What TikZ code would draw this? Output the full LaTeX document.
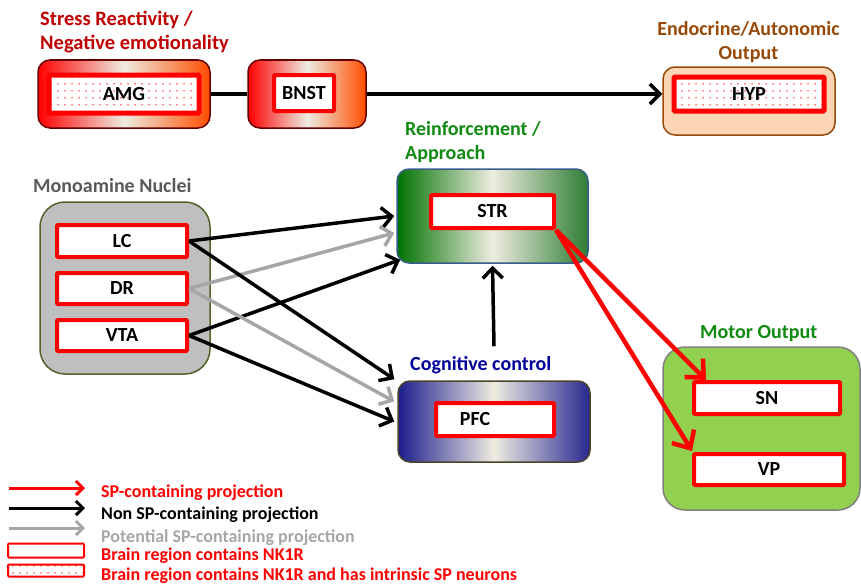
\documentclass[tikz,border=0pt]{standalone}
\usepackage{fontspec}
\setmainfont{Carlito}
\usetikzlibrary{arrows.meta,patterns.meta}
\definecolor{nkred}{HTML}{FF0000}
\definecolor{cream}{HTML}{EEECE1}
\definecolor{stressred}{HTML}{C00000}
\definecolor{endobrown}{HTML}{984807}
\definecolor{reingreen}{HTML}{108A10}
\definecolor{cogblue}{HTML}{00009A}
\definecolor{monogray}{HTML}{595959}
\definecolor{arrgray}{HTML}{A6A6A6}
\begin{document}
\begin{tikzpicture}[x=1pt, y=-1pt, font=\bfseries\fontsize{20}{24}\selectfont,
    region/.style={draw=nkred, line width=4pt, fill=white, inner sep=0pt, rounded corners=1pt},
    spregion/.style={region, preaction={fill=white}, pattern={Dots[distance=6.5pt,radius=.8pt]}, pattern color=nkred},
    group/.style={line width=1.5pt, rounded corners=12pt, inner sep=0pt},
    title/.style={inner sep=0pt, align=left, anchor=north west},
    proj/.style={line width=3.5pt, -{Straight Barb[length=10pt,width=20pt]}},
    spproj/.style={line width=4.5pt, nkred, -{Straight Barb[length=14pt,width=26pt]}},
    legarr/.style={line width=3pt, -{Straight Barb[length=7pt,width=14pt]}}]
    \useasboundingbox (0,0) rectangle (861,586);
    % group boxes
    \node[group, draw=red!40!black, left color=nkred, right color=orange!60!red, middle color=cream, minimum width=172pt, minimum height=68pt] (amgbox) at (124,94) {};
    \node[group, draw=red!40!black, left color=nkred, right color=orange!60!red, middle color=cream, minimum width=118pt, minimum height=68pt] (bnstbox) at (307,94) {};
    \node[group, draw=endobrown, fill={rgb,255:red,252;green,213;blue,181}, minimum width=172pt, minimum height=68pt] (hypbox) at (749,101) {};
    \node[group, draw={rgb,255:red,56;green,93;blue,138}, left color=green!45!black, right color={rgb,255:red,46;green,125;blue,50}, middle color=cream, minimum width=191pt, minimum height=94pt] (strbox) at (492.5,216) {};
    \node[group, draw={rgb,255:red,79;green,98;blue,40}, fill={rgb,255:red,191;green,191;blue,191}, rounded corners=25pt, minimum width=170pt, minimum height=172pt] (monobox) at (125,288) {};
    \node[group, draw={rgb,255:red,74;green,69;blue,42}, left color={rgb,255:red,28;green,28;blue,140}, right color={rgb,255:red,40;green,40;blue,145}, middle color=cream, minimum width=192pt, minimum height=81pt] (pfcbox) at (494,421.5) {};
    \node[group, draw=gray, fill={rgb,255:red,146;green,208;blue,80}, rounded corners=22pt, minimum width=197pt, minimum height=163pt] (motorbox) at (761.5,428.5) {};
    % titles
    \node[title, text=stressred, font=\bfseries\fontsize{20.5}{24}\selectfont] (stresstitle) at (40,11) {Stress Reactivity /\\Negative emotionality};
    \node[title, text=endobrown, align=center, anchor=north] (endotitle) at (748.5,21) {Endocrine/Autonomic\\Output};
    \node[title, text=reingreen] (reintitle) at (405,121) {Reinforcement /\\Approach};
    \node[title, text=monogray, anchor=base west] (monotitle) at (33,192) {Monoamine Nuclei};
    \node[title, text=cogblue, anchor=base west] (cogtitle) at (410,370) {Cognitive control};
    \node[title, text=reingreen, anchor=base west] (motortitle) at (700,338) {Motor Output};
    % brain regions
    \node[spregion, line width=5pt, minimum width=150pt, minimum height=38pt] (amg) at (124,94) {AMG};
    \node[region, minimum width=60pt, minimum height=36pt] (bnst) at (304,93) {BNST};
    \node[spregion, line width=5pt, minimum width=150pt, minimum height=34pt] (hyp) at (749,94) {HYP};
    \node[region, minimum width=123pt, minimum height=33pt] (str) at (492.5,211.5) {STR};
    \node[region, minimum width=130pt, minimum height=32pt] (lc) at (122,241) {LC};
    \node[region, minimum width=130pt, minimum height=31pt] (dr) at (122,288.5) {DR};
    \node[region, minimum width=130pt, minimum height=31pt] (vta) at (122,335.5) {VTA};
    \node[region, minimum width=118pt, minimum height=33pt] (pfc) at (495,419.5) {PFC\hspace*{40pt}};
    \node[region, minimum width=146pt, minimum height=32pt] (sn) at (767,398) {SN};
    \node[region, minimum width=150pt, minimum height=31pt] (vp) at (769,469.5) {VP};
    % projections
    \draw[line width=4pt] (amgbox.east) -- (bnstbox.west);
    \draw[proj] (bnstbox.east) -- ([yshift=7pt]hypbox.west);
    \draw[proj] (lc.east) -- ([xshift=-2pt]strbox.west);
    \draw[proj, arrgray] (dr.east) -- ([shift={(-2pt,-17pt)}]strbox.west);
    \draw[proj] (vta.east) -- ([shift={(4pt,4pt)}]strbox.south west);
    \draw[proj] (lc.east) -- ([shift={(-3pt,1pt)}]pfcbox.north west);
    \draw[proj, arrgray] (dr.east) -- ([shift={(-3pt,20pt)}]pfcbox.west);
    \draw[proj] (vta.east) -- ([xshift=-3pt]pfcbox.west);
    \draw[proj] ([yshift=34pt]pfcbox.north) -- ([yshift=-2pt]strbox.south);
    \draw[spproj] (str.south east) -- ([xshift=14pt]sn.north west);
    \draw[spproj] (str.south east) -- ([yshift=1pt]vp.north west);
    % legend
    \foreach \i/\y/\col in {1/488/nkred, 2/508/black, 3/528/arrgray}{
        \coordinate (la\i) at (9,\y);
        \coordinate (lb\i) at (85,\y);
        \draw[legarr, \col] (la\i) -- (lb\i);
    }
    \node[region, line width=2pt, minimum width=76pt, minimum height=14pt] (legreg) at (46,550.5) {};
    \node[spregion, line width=2pt, minimum width=76pt, minimum height=12pt] (legsp) at (46,570.5) {};
    \foreach \i/\y/\col/\txt in {1/497/nkred/SP-containing projection, 2/519/black/Non SP-containing projection,
        3/542/arrgray/Potential SP-containing projection, 4/560/nkred/Brain region contains NK1R,
        5/580/nkred/Brain region contains NK1R and has intrinsic SP neurons}{
        \node[anchor=base west, inner sep=0pt, text=\col, font=\bfseries\fontsize{18}{18}\selectfont] (legtxt\i) at (101,\y) {\txt};
    }
\end{tikzpicture}
\end{document}
